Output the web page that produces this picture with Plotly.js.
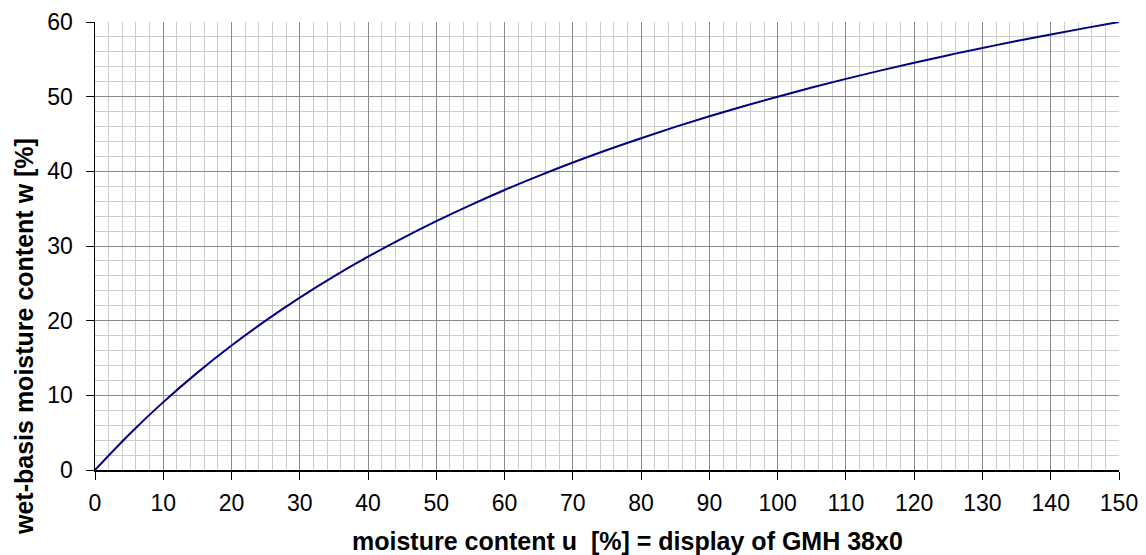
<!DOCTYPE html>
<html>
<head>
<meta charset="utf-8">
<script src="https://cdn.plot.ly/plotly-3.0.1.min.js"></script>
<style>html,body{margin:0;padding:0;background:#fff;}#chart{width:1146px;height:555px;}</style>
</head>
<body>
<div id="chart"></div>
<script>
// moisture content u [%] (display of GMH 38x0)
const moistureU = [0,5,10,15,20,25,30,35,40,45,50,55,60,65,70,75,80,85,90,95,100,105,110,115,120,125,130,135,140,145,150];
// wet-basis moisture content w [%]
const wetBasisW = [0,4.76,9.09,13.04,16.67,20,23.08,25.93,28.57,31.03,33.33,35.48,37.5,39.39,41.18,42.86,44.44,45.95,47.37,48.72,50,51.22,52.38,53.49,54.55,55.56,56.52,57.45,58.33,59.18,60];
const xTickVals = [0,10,20,30,40,50,60,70,80,90,100,110,120,130,140,150];
const yTickVals = [0,10,20,30,40,50,60];
const xTitle = 'moisture content u  [%] = display of GMH 38x0';
const yTitle = 'wet-basis moisture content w [%]';

const trace = {
  x: moistureU, y: wetBasisW, type: 'scatter', mode: 'lines',
  line: {color: '#000080', width: 2, shape: 'spline'},
  hoverinfo: 'skip'
};
const layout = {
  width: 1146, height: 555,
  margin: {l: 95, r: 27, t: 22, b: 85},
  paper_bgcolor: '#fff', plot_bgcolor: '#fff',
  showlegend: false,
  font: {family: 'Arial, "Liberation Sans", sans-serif', color: '#000'},
  xaxis: {
    range: [0, 150], tickvals: xTickVals, ticks: 'outside', ticklen: 8, tickcolor: '#000',
    ticklabelstandoff: 4,
    showline: true, linecolor: '#000', linewidth: 1.5, zeroline: false,
    showgrid: true, gridcolor: '#8a8a8a', gridwidth: 1,
    minor: {dtick: 2, showgrid: true, gridcolor: '#cccccc', gridwidth: 1},
    tickfont: {size: 23, color: '#000'}, fixedrange: true
  },
  yaxis: {
    range: [0, 60], tickvals: yTickVals, ticks: 'outside', ticklen: 8, tickcolor: '#000',
    ticklabelstandoff: 8,
    showline: true, linecolor: '#000', linewidth: 1.5, zeroline: false,
    showgrid: true, gridcolor: '#8a8a8a', gridwidth: 1,
    minor: {dtick: 2, showgrid: true, gridcolor: '#cccccc', gridwidth: 1},
    tickfont: {size: 23, color: '#000'}, fixedrange: true
  },
  annotations: [
    {text: '<b>' + xTitle + '</b>', xref: 'paper', yref: 'paper', x: 0.5205, y: -0.158,
     xanchor: 'center', yanchor: 'middle', showarrow: false, font: {size: 25, color: '#000'}},
    {text: '<b>' + yTitle + '</b>', xref: 'paper', yref: 'paper', x: -0.0693, y: 0.297,
     xanchor: 'center', yanchor: 'middle', textangle: -90, showarrow: false, font: {size: 25, color: '#000'}}
  ]
};
Plotly.newPlot('chart', [trace], layout, {displayModeBar: false, staticPlot: true});
</script>
</body>
</html>
